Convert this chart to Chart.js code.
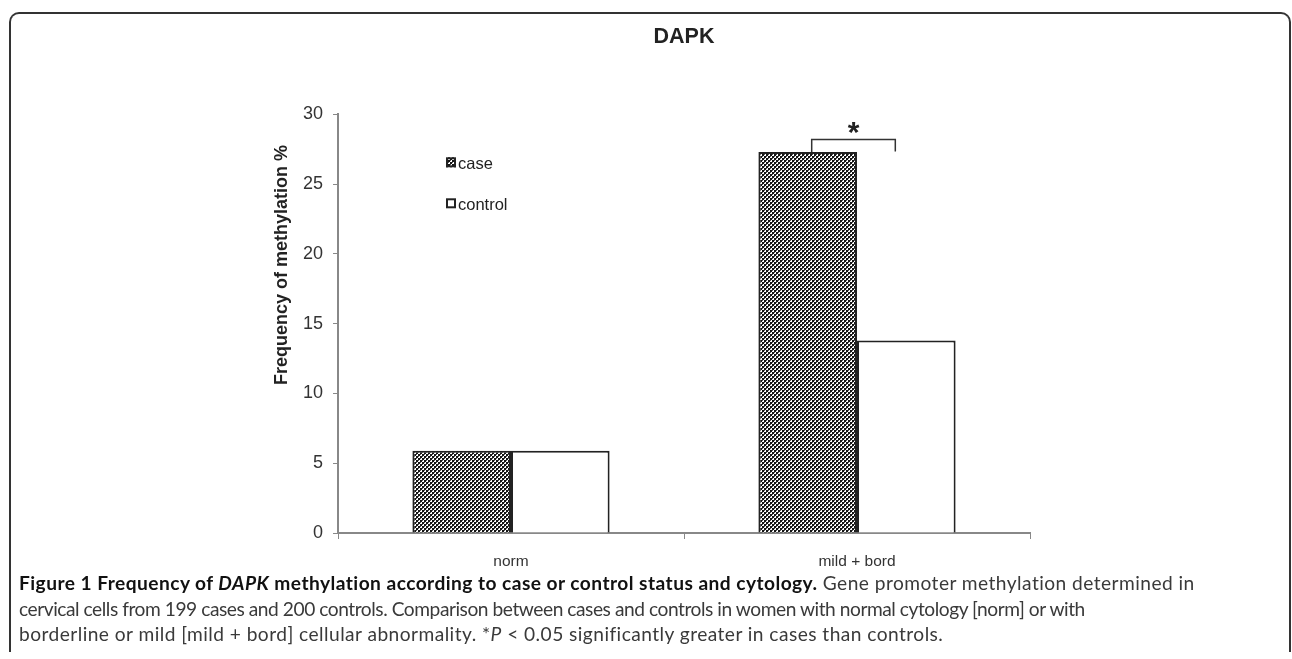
<!DOCTYPE html>
<html><head><meta charset="utf-8">
<script src="https://cdn.jsdelivr.net/npm/chart.js@4.4.0/dist/chart.umd.min.js"></script>
<style>
html,body{margin:0;padding:0;background:#fff;width:1292px;height:659px;overflow:hidden;}
#frame{position:absolute;left:9px;top:12px;width:1282px;height:640px;border:2px solid #333;border-bottom:none;border-radius:10px 10px 0 0;box-sizing:border-box;}
#wrap{position:absolute;left:0;top:0;width:1292px;height:580px;}
#cap{position:absolute;left:19px;top:570px;font-family:Lato,sans-serif;color:#3a3a3a;line-height:25.5px;white-space:nowrap;font-size:17px;}
#cap b{color:#111;}
#cap span.l{display:inline-block;}
</style></head><body>
<div id="frame"></div>
<div id="wrap"><canvas id="c" width="1292" height="580" style="width:1292px;height:580px"></canvas></div>
<div id="cap">
<div><span class="l" id="l1"><b>Figure 1 Frequency of <i>DAPK</i> methylation according to case or control status and cytology.</b> Gene promoter methylation determined in</span></div>
<div><span class="l" id="l2">cervical cells from 199 cases and 200 controls. Comparison between cases and controls in women with normal cytology [norm] or with</span></div>
<div><span class="l" id="l3">borderline or mild [mild + bord] cellular abnormality. *<i>P</i> &lt; 0.05 significantly greater in cases than controls.</span></div>
</div>
<script>
const categories = ['norm', 'mild + bord'];
const seriesLabels = ['case', 'control'];
const caseValues = [5.9, 27.3];
const controlValues = [5.9, 13.8];
const yMin = 0, yMax = 30, yStep = 5;
const yTitle = 'Frequency of methylation %';
const sigCategory = 1;
const sigLevel = 28.2;
const sigMark = '*';

// fit caption to reference line widths (single size, small per-line spacing)
(function(){
  const cap = document.getElementById('cap');
  const ids = ['l1', 'l2', 'l3'];
  const targets = [1209, 985, 940];
  const ws = ids.map(id => document.getElementById(id).getBoundingClientRect().width);
  let num = 0, den = 0;
  ws.forEach((w, i) => { num += w * targets[i]; den += w * w; });
  const s = num / den;
  cap.style.fontSize = (17 * s) + 'px';
  ids.forEach((id, i) => {
    const el = document.getElementById(id);
    const w = el.getBoundingClientRect().width;
    const n = el.textContent.length;
    let ls = (targets[i] - w) / n;
    ls = Math.max(-0.45, Math.min(0.45, ls));
    el.style.letterSpacing = ls + 'px';
  });
})();

function makePattern(){
  const p = document.createElement('canvas');
  p.width = 4; p.height = 4;
  const g = p.getContext('2d');
  g.fillStyle = '#fff'; g.fillRect(0,0,4,4);
  g.fillStyle = '#151515'; g.fillRect(0,0,2,2); g.fillRect(2,2,2,2);
  g.fillStyle = '#555'; g.fillRect(2,0,1,1); g.fillRect(0,2,1,1);
  return g.createPattern(p, 'repeat');
}
const ctx0 = document.getElementById('c').getContext('2d');
const checker = makePattern();

const FONT = 'Liberation Sans, Arial, sans-serif';

const annotate = {
  id: 'annotate',
  afterDraw(chart){
    const ctx = chart.ctx, ca = chart.chartArea, ys = chart.scales.y;
    ctx.save();
    // y-axis title
    ctx.save();
    ctx.translate(282, 265);
    ctx.rotate(-Math.PI / 2);
    ctx.fillStyle = '#222';
    ctx.font = 'bold 18px ' + FONT;
    ctx.textAlign = 'center'; ctx.textBaseline = 'middle';
    ctx.fillText(yTitle, 0, 0);
    ctx.restore();
    // legend
    const fills = [checker, '#fff'];
    const offs = [48, 89];
    seriesLabels.forEach((lab, i) => {
      const sx = ca.left + 108, sy = ca.top + offs[i];
      ctx.fillStyle = fills[i];
      ctx.fillRect(sx, sy - 5, 10, 10);
      ctx.strokeStyle = '#222'; ctx.lineWidth = 2;
      ctx.strokeRect(sx + 1, sy - 4, 8, 8);
      ctx.fillStyle = '#222';
      ctx.font = '16.5px ' + FONT;
      ctx.textBaseline = 'middle'; ctx.textAlign = 'left';
      ctx.fillText(lab, sx + 12, sy + 2);
    });
    // significance bracket
    const b0 = chart.getDatasetMeta(0).data[sigCategory];
    const b1 = chart.getDatasetMeta(1).data[sigCategory];
    const x1 = b0.x + 4, x2 = b1.x - 11;
    const y = ys.getPixelForValue(sigLevel);
    ctx.strokeStyle = '#333'; ctx.lineWidth = 1.5;
    ctx.beginPath();
    ctx.moveTo(x1, b0.y); ctx.lineTo(x1, y); ctx.lineTo(x2, y); ctx.lineTo(x2, y + 12);
    ctx.stroke();
    ctx.font = 'bold 30px ' + FONT;
    ctx.fillStyle = '#222';
    ctx.textAlign = 'center'; ctx.textBaseline = 'alphabetic';
    const m = ctx.measureText(sigMark);
    const cy = y - 11;
    ctx.fillText(sigMark, (x1 + x2) / 2, cy + (m.actualBoundingBoxAscent - m.actualBoundingBoxDescent) / 2);
    ctx.restore();
  }
};

new Chart(ctx0, {
  type: 'bar',
  data: {
    labels: categories,
    datasets: [
      { label: seriesLabels[0], data: caseValues, backgroundColor: checker, borderColor: '#222', borderWidth: 2, categoryPercentage: 0.57, barPercentage: 1 },
      { label: seriesLabels[1], data: controlValues, backgroundColor: '#fff', borderColor: '#222', borderWidth: 2, categoryPercentage: 0.57, barPercentage: 1 }
    ]
  },
  options: {
    responsive: false,
    animation: false,
    devicePixelRatio: 1,
    layout: { padding: { left: 258, right: 262, top: 24.1, bottom: 0 } },
    plugins: {
      legend: { display: false },
      tooltip: { enabled: false },
      title: { display: true, fullSize: false, text: 'DAPK', color: '#222', font: { family: FONT, size: 21.5, weight: 'bold' }, padding: { top: 0, bottom: 64.4 } }
    },
    scales: {
      x: {
        ticks: { color: '#333', font: { family: FONT, size: 15.5 }, padding: 13 },
        grid: { display: true, offset: true, drawOnChartArea: false, drawTicks: true, tickLength: 6, color: '#888', lineWidth: 1 },
        border: { display: true, color: '#888', width: 2 },
        afterFit(s){ s.height = 47; }
      },
      y: {
        min: yMin, max: yMax,
        ticks: { stepSize: yStep, color: '#333', font: { family: FONT, size: 18 }, padding: 10 },
        grid: { display: true, drawOnChartArea: false, drawTicks: true, tickLength: 5, color: '#888', lineWidth: 1 },
        border: { display: true, color: '#888', width: 2 },
        title: { display: false, text: yTitle },
        afterFit(s){ s.width = 80; }
      }
    }
  },
  plugins: [annotate]
});
</script>
</body></html>
